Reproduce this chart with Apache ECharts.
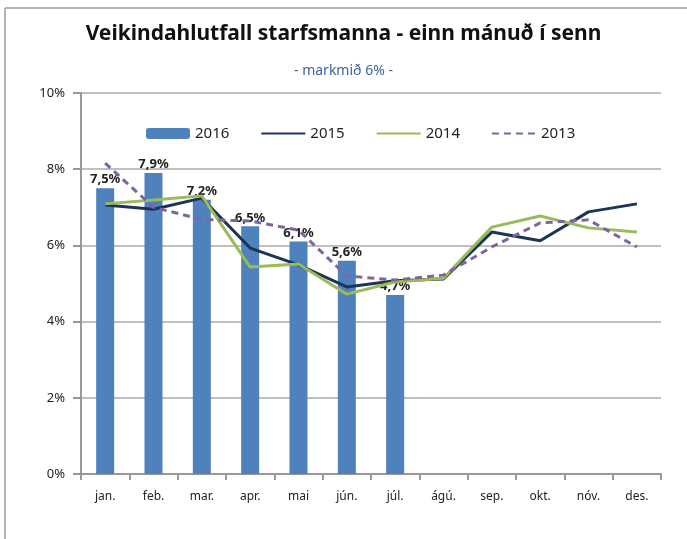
<!DOCTYPE html>
<html>
<head>
<meta charset="utf-8">
<script src="https://cdn.jsdelivr.net/npm/echarts@6/dist/echarts.min.js"></script>
<style>
  html, body { margin: 0; padding: 0; background: #fff; }
  #chart { width: 687px; height: 539px; }
</style>
</head>
<body>
<div id="chart"></div>
<script>
/* --- data --- */
const months = ['jan.', 'feb.', 'mar.', 'apr.', 'mai', 'jún.', 'júl.', 'ágú.', 'sep.', 'okt.', 'nóv.', 'des.'];
const y2016 = [7.5, 7.9, 7.2, 6.5, 6.1, 5.6, 4.7];
const y2015 = [7.06, 6.95, 7.24, 5.93, 5.49, 4.91, 5.07, 5.12, 6.35, 6.12, 6.88, 7.09];
const y2014 = [7.09, 7.19, 7.3, 5.43, 5.51, 4.72, 5.04, 5.14, 6.48, 6.77, 6.46, 6.35];
const y2013 = [8.16, 7.0, 6.68, 6.64, 6.4, 5.2, 5.09, 5.22, 5.96, 6.59, 6.67, 5.96];
const yTicks = [0, 2, 4, 6, 8, 10];

const chart = echarts.init(document.getElementById('chart'));
const font = 'Noto Sans';

const lineSeries = (name, data, color, dashed) => ({
  name, type: 'line', data,
  symbol: 'none',
  lineStyle: { color, width: 3, type: dashed ? [7, 5] : 'solid' },
  itemStyle: { color },
  z: 3
});

chart.setOption({
  animation: false,
  textStyle: { fontFamily: font },
  title: [
    {
      text: 'Veikindahlutfall starfsmanna - einn mánuð í senn',
      left: 'center', top: 19,
      textStyle: { fontSize: 21, fontWeight: 'bold', color: '#111', fontFamily: font }
    },
    {
      text: '- markmið 6% -',
      left: 'center', top: 59,
      textStyle: { fontSize: 14, fontWeight: 'normal', color: '#3b63a8', fontFamily: font }
    }
  ],
  legend: {
    top: 121, left: 141,
    itemWidth: 44, itemHeight: 11, itemGap: 31,
    textStyle: { fontSize: 15, color: '#222', fontFamily: font },
    data: [
      { name: '2016' },
      { name: '2015', itemStyle: { opacity: 0 } },
      { name: '2014', itemStyle: { opacity: 0 } },
      { name: '2013', itemStyle: { opacity: 0 } }
    ]
  },
  grid: { left: 81, right: 26, top: 93, bottom: 65 },
  xAxis: {
    type: 'category',
    data: months,
    boundaryGap: true,
    axisLine: { lineStyle: { color: '#999', width: 2 } },
    axisTick: { show: true, length: 6, lineStyle: { color: '#999', width: 2 } },
    axisLabel: { color: '#222', fontSize: 12, margin: 17, fontFamily: font }
  },
  yAxis: {
    type: 'value',
    min: 0, max: 10, interval: 2,
    axisLine: { show: true, lineStyle: { color: '#999', width: 2 } },
    axisTick: { show: true, length: 8, lineStyle: { color: '#999', width: 2 } },
    splitLine: { lineStyle: { color: '#aaa', width: 1.5 } },
    axisLabel: {
      color: '#222', fontSize: 13, margin: 16, fontFamily: font,
      formatter: v => yTicks.includes(v) ? v + '%' : ''
    }
  },
  series: [
    {
      name: '2016', type: 'bar', data: y2016,
      barWidth: 18,
      itemStyle: { color: '#4f81bd' },
      label: {
        show: true, position: 'top', distance: 2,
        fontSize: 13, fontWeight: 'bold', color: '#222', fontFamily: font,
        formatter: p => p.value.toFixed(1).replace('.', ',') + '%'
      },
      z: 2
    },
    lineSeries('2015', y2015, '#1c3557', false),
    lineSeries('2014', y2014, '#9bbb59', false),
    lineSeries('2013', y2013, '#8064a2', true)
  ],
  graphic: [
    { type: 'line', shape: { x1: 5, y1: 8, x2: 687, y2: 8 }, style: { stroke: '#b5b5b5', lineWidth: 2 } },
    { type: 'line', shape: { x1: 5, y1: 8, x2: 5, y2: 539 }, style: { stroke: '#b5b5b5', lineWidth: 2 } }
  ]
});
</script>
</body>
</html>
